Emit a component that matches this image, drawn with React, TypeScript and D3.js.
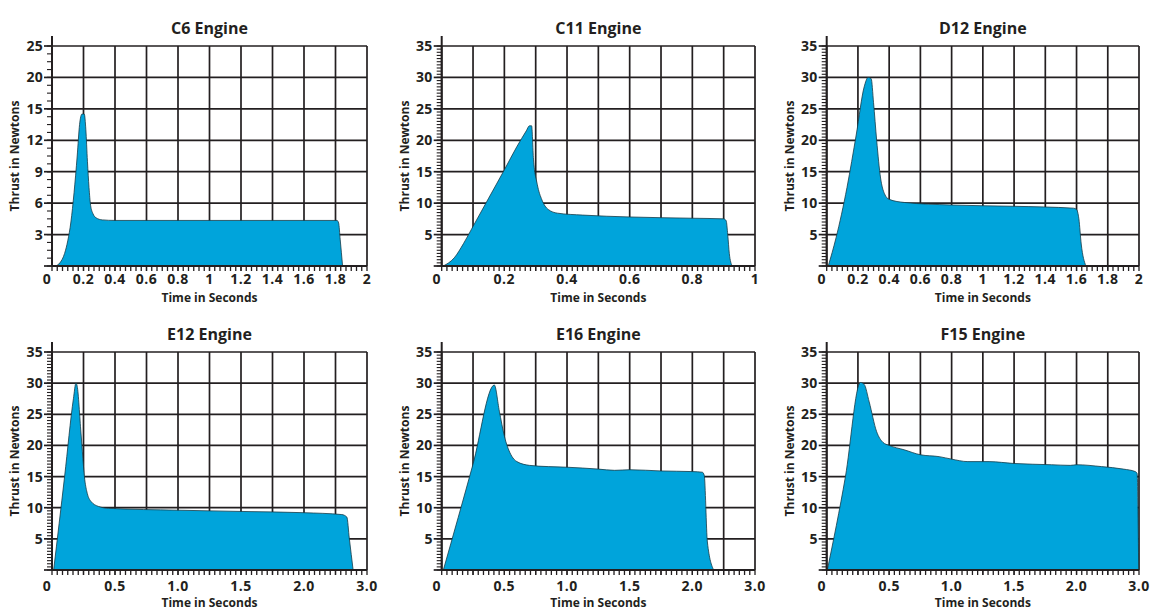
import React from "react";
import * as d3 from "d3";

// thrust curves, [time s, thrust N]
const c6Curve = [
  [0.02, 0], [0.05, 0.3], [0.08, 1.2], [0.1, 2.4], [0.12, 4.2], [0.14, 7],
  [0.16, 10.5], [0.175, 13.5], [0.19, 14.5], [0.205, 14.5], [0.215, 13],
  [0.225, 10], [0.235, 7.5], [0.245, 5.8], [0.26, 5.0], [0.28, 4.6],
  [0.32, 4.4], [0.4, 4.35], [1.0, 4.35], [1.6, 4.35], [1.81, 4.35],
  [1.82, 4.1], [1.83, 2.5], [1.845, 0],
];
const c11Curve = [
  [0.005, 0], [0.04, 1.3], [0.07, 3.6], [0.1, 6.3], [0.15, 10.8], [0.2, 15.3],
  [0.24, 19], [0.27, 21.5], [0.28, 22.3], [0.287, 22.3], [0.293, 17],
  [0.305, 13], [0.32, 10.5], [0.34, 9], [0.37, 8.4], [0.45, 8.1], [0.6, 7.8],
  [0.8, 7.6], [0.9, 7.5], [0.908, 7.2], [0.913, 5], [0.918, 2], [0.927, 0],
];
const d12Curve = [
  [0.01, 0], [0.06, 4.5], [0.13, 12.5], [0.19, 21], [0.24, 28.5],
  [0.265, 30], [0.285, 29.8], [0.3, 26], [0.32, 20], [0.345, 14],
  [0.37, 11.5], [0.4, 10.6], [0.5, 10.1], [0.8, 9.7], [1.2, 9.5],
  [1.58, 9.2], [1.6, 9.0], [1.615, 7.5], [1.63, 3.5], [1.66, 0],
];
const e12Curve = [
  [0.013, 0], [0.1, 15], [0.17, 27.5], [0.19, 30], [0.2, 29.5], [0.23, 22],
  [0.26, 14.5], [0.28, 12.3], [0.31, 11], [0.37, 10.2], [0.45, 9.9],
  [1.0, 9.6], [1.5, 9.4], [2.0, 9.2], [2.6, 8.9], [2.68, 8.5], [2.72, 5],
  [2.78, 0],
];
const e16Curve = [
  [0.013, 0], [0.25, 17], [0.42, 29.7], [0.46, 25.5], [0.5, 21.5],
  [0.55, 18.6], [0.6, 17.4], [0.7, 16.8], [0.85, 16.6], [1.0, 16.5],
  [1.25, 16.2], [1.38, 16], [1.5, 16.1], [1.75, 15.9], [2.0, 15.8],
  [2.16, 15.7], [2.19, 15.2], [2.24, 4.5], [2.34, 0],
];
const f15Curve = [
  [0.005, 0], [0.15, 15], [0.27, 30.1], [0.3, 29.8], [0.34, 27], [0.4, 22.2],
  [0.45, 20.5], [0.5, 20], [0.62, 19.3], [0.75, 18.5], [0.9, 18.2],
  [1.0, 17.8], [1.13, 17.4], [1.3, 17.4], [1.5, 17.1], [1.8, 16.9],
  [1.95, 16.8], [2.0, 16.9], [2.4, 16.6], [2.75, 16.2], [2.94, 15.8],
  [2.97, 15.5], [2.995, 0],
];

// gridlines (equally spaced on the page) and their labels
const xGridTwo = [0, 0.2, 0.4, 0.6, 0.8, 1, 1.2, 1.4, 1.6, 1.8, 2];
const xLabelsTwo = ["0", "0.2", "0.4", "0.6", "0.8", "1", "1.2", "1.4", "1.6", "1.8", "2"];
const xGridOne = [0, 0.1, 0.2, 0.3, 0.4, 0.5, 0.6, 0.7, 0.8, 0.9, 1];
const xLabelsOne = ["0", "", "0.2", "", "0.4", "", "0.6", "", "0.8", "", "1"];
const xGridThree = [0, 0.25, 0.5, 0.75, 1, 1.25, 1.5, 1.75, 2, 2.5, 3];
const xLabelsThree = ["0", "", "0.5", "", "1.0", "", "1.5", "", "2.0", "", "3.0"];

const yGridC6 = [0, 3, 6, 9, 12, 15, 20, 25];
const yLabelsC6 = ["", "3", "6", "9", "12", "15", "20", "25"];
const yGrid35 = [0, 5, 10, 15, 20, 25, 30, 35];
const yLabels35 = ["", "5", "10", "15", "20", "25", "30", "35"];

const titles = ["C6 Engine", "C11 Engine", "D12 Engine", "E12 Engine", "E16 Engine", "F15 Engine"];

const ink = "#231f20";
const fillBlue = "#00a4db";
const font = "'Open Sans', 'Noto Sans', sans-serif";

const columns = [
  { left: 52, right: 367 },
  { left: 441.7, right: 755 },
  { left: 826.7, right: 1139 },
];
const rows = [
  { top: 46, bottom: 266, titleY: 34, tickY: 283.5, axisTitleY: 302 },
  { top: 352, bottom: 570, titleY: 340, tickY: 591, axisTitleY: 607 },
];

const panels = [
  { curve: c6Curve, xGrid: xGridTwo, xLabels: xLabelsTwo, yGrid: yGridC6, yLabels: yLabelsC6, yMinor: 4 },
  { curve: c11Curve, xGrid: xGridOne, xLabels: xLabelsOne, yGrid: yGrid35, yLabels: yLabels35, yMinor: 10 },
  { curve: d12Curve, xGrid: xGridTwo, xLabels: xLabelsTwo, yGrid: yGrid35, yLabels: yLabels35, yMinor: 10 },
  { curve: e12Curve, xGrid: xGridThree, xLabels: xLabelsThree, yGrid: yGrid35, yLabels: yLabels35, yMinor: 10 },
  { curve: e16Curve, xGrid: xGridThree, xLabels: xLabelsThree, yGrid: yGrid35, yLabels: yLabels35, yMinor: 10 },
  { curve: f15Curve, xGrid: xGridThree, xLabels: xLabelsThree, yGrid: yGrid35, yLabels: yLabels35, yMinor: 10 },
];

const minorValues = (grid: number[], k: number) => {
  const out: number[] = [];
  for (let i = 0; i < grid.length - 1; i++) {
    for (let j = 0; j <= k; j++) out.push(grid[i] + ((grid[i + 1] - grid[i]) * j) / k);
  }
  return out;
};

const Panel = ({ idx }: { idx: number }) => {
  const p = panels[idx];
  const col = columns[idx % 3];
  const row = rows[Math.floor(idx / 3)];
  const { left, right } = col;
  const { top, bottom } = row;

  // polylinear scales: every gridline is one equal step on the page
  const x = d3
    .scaleLinear()
    .domain(p.xGrid)
    .range(p.xGrid.map((_, i) => left + ((right - left) * i) / (p.xGrid.length - 1)));
  const y = d3
    .scaleLinear()
    .domain(p.yGrid)
    .range(p.yGrid.map((_, i) => bottom - ((bottom - top) * i) / (p.yGrid.length - 1)));

  const area = d3
    .area<number[]>()
    .x((d) => x(d[0]))
    .y0(y(0))
    .y1((d) => y(d[1]))
    .curve(d3.curveMonotoneX);
  const line = d3
    .line<number[]>()
    .x((d) => x(d[0]))
    .y((d) => y(d[1]))
    .curve(d3.curveMonotoneX);

  const xMinor = minorValues(p.xGrid, 6);
  const yMinor = minorValues(p.yGrid, p.yMinor);
  const mid = (left + right) / 2;

  return (
    <g>
      {/* grid */}
      {p.xGrid.map((v, i) => (
        <line key={"vx" + i} x1={x(v)} x2={x(v)} y1={top} y2={bottom} stroke={ink} strokeWidth={1.7} />
      ))}
      {p.yGrid.map((v, i) => (
        <line key={"hy" + i} x1={left} x2={right} y1={y(v)} y2={y(v)} stroke={ink} strokeWidth={1.7} />
      ))}

      {/* thrust curve sits over the grid */}
      <path d={area(p.curve) || ""} fill={fillBlue} />
      <path d={line(p.curve) || ""} fill="none" stroke="#163b48" strokeWidth={0.8} />

      <line x1={left} x2={left} y1={top - 10} y2={bottom} stroke={ink} strokeWidth={2} />
      <line x1={left} x2={right} y1={bottom} y2={bottom} stroke={ink} strokeWidth={2} />

      {/* minor ticks */}
      {xMinor.map((v, i) => (
        <line key={"mx" + i} x1={x(v)} x2={x(v)} y1={bottom} y2={bottom + 5} stroke={ink} strokeWidth={1.3} />
      ))}
      {yMinor.map((v, i) => (
        <line key={"my" + i} x1={left - 5} x2={left} y1={y(v)} y2={y(v)} stroke={ink} strokeWidth={1.1} />
      ))}
      {p.yGrid.map((v, i) => (
        <line key={"My" + i} x1={left - 8} x2={left} y1={y(v)} y2={y(v)} stroke={ink} strokeWidth={1.7} />
      ))}

      {/* labels */}
      {p.yLabels.map((t, i) =>
        t ? (
          <text key={"ly" + i} x={left - 9} y={y(p.yGrid[i])} dy="0.36em" textAnchor="end"
            fontSize={14} fontWeight={700} letterSpacing={0.3} fill={ink}>
            {t}
          </text>
        ) : null
      )}
      {p.xLabels.map((t, i) =>
        t ? (
          <text key={"lx" + i} x={x(p.xGrid[i]) - (i === 0 ? 5 : 0)} y={row.tickY} textAnchor="middle"
            fontSize={14} fontWeight={700} letterSpacing={0.5} fill={ink}>
            {t}
          </text>
        ) : null
      )}
      <text x={mid} y={row.titleY} textAnchor="middle" fontSize={16} fontWeight={700} fill={ink}>
        {titles[idx]}
      </text>
      <text x={mid} y={row.axisTitleY} textAnchor="middle" fontSize={12} fontWeight={700} fill={ink}>
        Time in Seconds
      </text>
      <text transform={`translate(${left - 33},${(top + bottom) / 2}) rotate(-90)`} textAnchor="middle"
        fontSize={12} fontWeight={700} fill={ink}>
        Thrust in Newtons
      </text>
    </g>
  );
};

export default function App() {
  return (
    <svg width={1151} height={610} style={{ position: "absolute", left: 0, top: 0, background: "#fff" }}
      fontFamily={font}>
      <rect width={1151} height={610} fill="#fff" />
      {panels.map((_, i) => (
        <Panel key={i} idx={i} />
      ))}
    </svg>
  );
}
